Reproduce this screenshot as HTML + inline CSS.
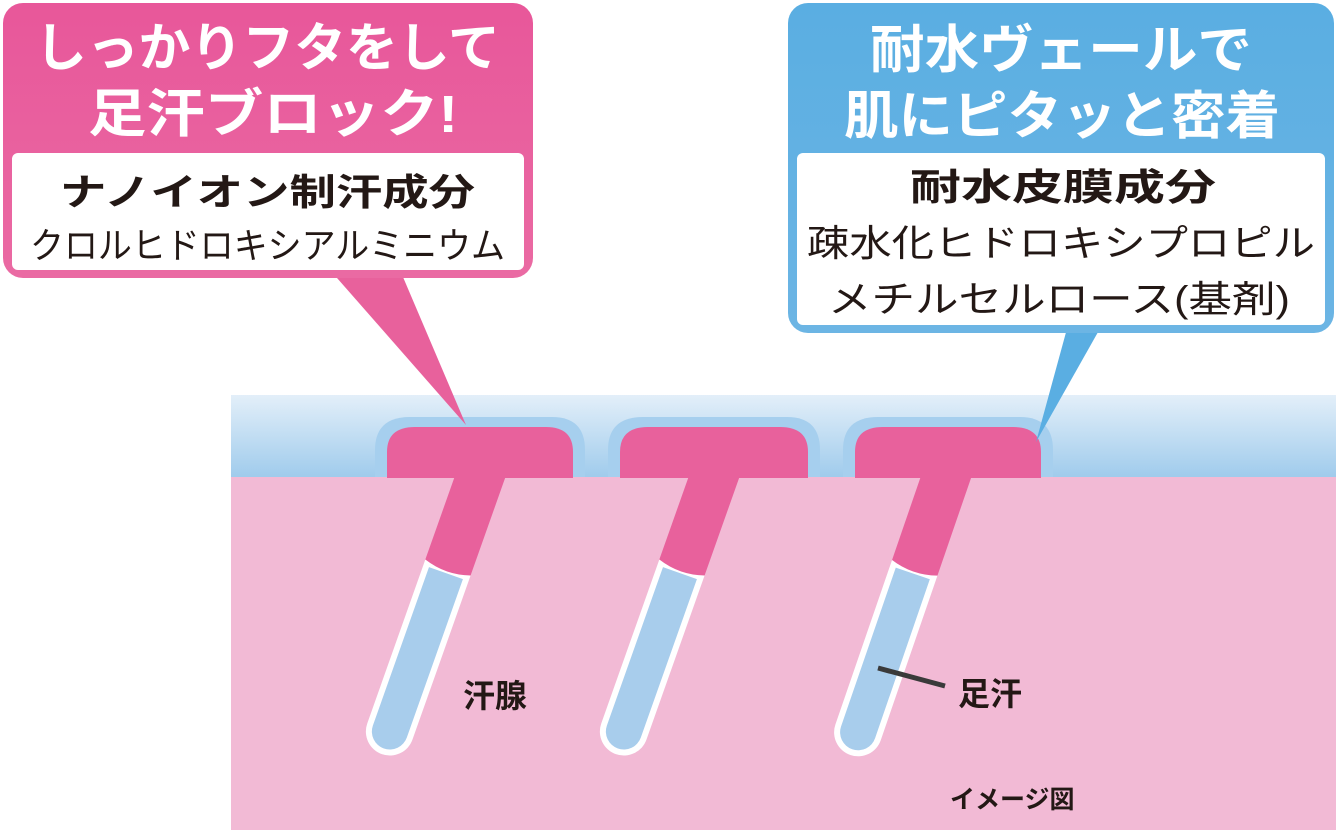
<!DOCTYPE html>
<html><head><meta charset="utf-8"><style>
html,body{margin:0;padding:0;background:#fff;}
svg{display:block;font-family:"Liberation Sans","Noto Sans CJK JP",sans-serif;}
</style></head><body>
<svg width="1336" height="830" viewBox="0 0 1336 830" xmlns="http://www.w3.org/2000/svg">
<defs>
<linearGradient id="bg" x1="0" y1="0" x2="0" y2="1">
<stop offset="0" stop-color="#e3eff9"/><stop offset="1" stop-color="#9fcbec"/>
</linearGradient>
<linearGradient id="pk" x1="0" y1="0" x2="0" y2="1">
<stop offset="0" stop-color="#e8579a"/><stop offset="1" stop-color="#ea6aa3"/>
</linearGradient>
<linearGradient id="bl" x1="0" y1="0" x2="0" y2="1">
<stop offset="0" stop-color="#5aaee2"/><stop offset="1" stop-color="#6cb5e4"/>
</linearGradient>
<g id="tube">
<path d="M-24 96 L24 96 L24 270 A24 24 0 0 1 -24 270 Z" fill="#fff"/>
<path d="M-18 102 L18 102 L18 270 A18 18 0 0 1 -18 270 Z" fill="#a8cdec"/>
<path d="M-24 -30 L24 -30 L24 96 Q0 104 -24 96 Z" fill="#e8619c"/>
</g>
</defs>
<rect x="231" y="395" width="1105" height="83" fill="url(#bg)"/>
<rect x="231" y="477" width="1105" height="353" fill="#f2bad5"/>
<path d="M375 477 L375 450 Q375 417 410 417 L552 417 Q585 417 585 450 L585 477 Z" fill="#a6cfee"/>
<path d="M608 477 L608 450 Q608 417 643 417 L787 417 Q820 417 820 450 L820 477 Z" fill="#a6cfee"/>
<path d="M843 477 L843 450 Q843 417 878 417 L1020 417 Q1053 417 1053 450 L1053 477 Z" fill="#a6cfee"/>
<use href="#tube" transform="translate(480,477) rotate(19.5)"/>
<use href="#tube" transform="translate(714,477) rotate(19.5)"/>
<use href="#tube" transform="translate(946,477) rotate(19)"/>
<path d="M387 478 L387 452 Q387 427 415 427 L546 427 Q573 427 573 452 L573 478 Z" fill="#e8619c"/>
<path d="M620 478 L620 452 Q620 427 648 427 L780 427 Q808 427 808 452 L808 478 Z" fill="#e8619c"/>
<path d="M855 478 L855 452 Q855 427 883 427 L1013 427 Q1041 427 1041 452 L1041 478 Z" fill="#e8619c"/>
<text x="463" y="707" font-size="32" font-weight="bold" fill="#231815">汗腺</text>
<line x1="878" y1="668" x2="945" y2="686" stroke="#3a3a3a" stroke-width="5"/>
<text x="958" y="705" font-size="32" font-weight="bold" fill="#231815">足汗</text>
<text x="950" y="808" font-size="25" font-weight="bold" fill="#231815">イメージ図</text>
<polygon points="330,270 400,270 466,425" fill="#e8619c"/>
<rect x="3" y="3" width="530" height="275" rx="20" fill="url(#pk)"/>
<rect x="12" y="153" width="512" height="117" rx="6" fill="#fff"/>
<text x="35" y="66" font-size="52" font-weight="bold" fill="#fff" textLength="465" lengthAdjust="spacingAndGlyphs">しっかりフタをして</text>
<text x="88" y="132" font-size="52" font-weight="bold" fill="#fff" textLength="370" lengthAdjust="spacingAndGlyphs">足汗ブロック!</text>
<text x="60" y="205" font-size="37" font-weight="bold" fill="#231815" textLength="415" lengthAdjust="spacingAndGlyphs">ナノイオン制汗成分</text>
<text x="30" y="258" font-size="36" fill="#231815" textLength="475" lengthAdjust="spacingAndGlyphs">クロルヒドロキシアルミニウム</text>
<polygon points="1068,325 1102,325 1036,442" fill="#5aaee2"/>
<rect x="788" y="3" width="546" height="330" rx="20" fill="url(#bl)"/>
<rect x="797" y="153" width="528" height="172" rx="6" fill="#fff"/>
<text x="870" y="68" font-size="52" font-weight="bold" fill="#fff" textLength="382" lengthAdjust="spacingAndGlyphs">耐水ヴェールで</text>
<text x="844" y="134" font-size="52" font-weight="bold" fill="#fff" textLength="436" lengthAdjust="spacingAndGlyphs">肌にピタッと密着</text>
<text x="910" y="200" font-size="37" font-weight="bold" fill="#231815" textLength="306" lengthAdjust="spacingAndGlyphs">耐水皮膜成分</text>
<text x="807" y="256" font-size="37" fill="#231815" textLength="508" lengthAdjust="spacingAndGlyphs">疎水化ヒドロキシプロピル</text>
<text x="828" y="312" font-size="37" fill="#231815" textLength="462" lengthAdjust="spacingAndGlyphs">メチルセルロース(基剤)</text>
</svg>
</body></html>
